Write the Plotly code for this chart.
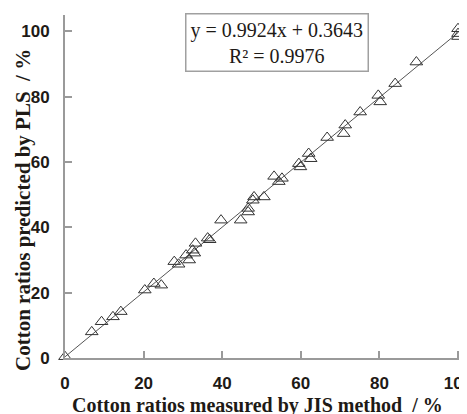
import plotly.graph_objects as go

# Measured (JIS) vs predicted (PLS) cotton ratios, %
measured = [0, 6.8, 9.3, 12.2, 14.2, 20.3, 22.6, 24.5, 27.8, 28.9, 30.8, 31.6, 32.5,
            33.2, 32.9, 36.3, 36.8, 39.7, 44.7, 46.6, 46.6, 47.8, 48.1, 50.6, 53.2,
            54.4, 55.2, 59.5, 59.9, 62.0, 62.5, 66.7, 70.9, 71.3, 75.1, 79.7, 80.2,
            84.0, 89.4, 100, 100, 100]
predicted = [0.4, 8.0, 11.1, 12.6, 14.2, 20.8, 22.8, 22.3, 29.5, 28.7, 31.5, 30.0, 33.0,
             35.1, 32.1, 36.7, 36.2, 42.2, 42.2, 44.7, 45.8, 48.3, 49.3, 49.3, 55.6,
             54.0, 55.0, 59.5, 58.5, 62.6, 61.0, 67.5, 68.7, 71.3, 75.3, 80.4, 78.4,
             84.0, 90.6, 100.8, 99.3, 98.4]

slope = 0.9924
intercept = 0.3643
r2 = 0.9976
fit_x = [0, 100]
fit_y = [slope * v + intercept for v in fit_x]

x_ticks = [0, 20, 40, 60, 80, 100]
y_ticks = [0, 20, 40, 60, 80, 100]

axis_col = "#9a9a9a"
txt_col = "#1e1a16"

# page has an 8px body margin; figure sized to fit the 467x414 window
W, H = 459, 406
L, R, T, B = 57, 7, 7, 56
PW, PH = W - L - R, H - T - B

fig = go.Figure()
fig.add_trace(go.Scatter(x=fit_x, y=fit_y, mode="lines",
                         line=dict(color="#555555", width=1), showlegend=False,
                         cliponaxis=False))
fig.add_trace(go.Scatter(x=measured, y=predicted, mode="markers",
                         marker=dict(symbol="triangle-up-open", size=11,
                                     color="#333333", line=dict(width=1)),
                         showlegend=False, cliponaxis=False))

fig.update_layout(
    width=W, height=H,
    margin=dict(l=L, r=R, t=T, b=B, autoexpand=False),
    paper_bgcolor="white", plot_bgcolor="white",
    xaxis=dict(range=[0, 100.5], tickvals=x_ticks, ticks="inside", ticklen=7,
               tickcolor=axis_col, tickwidth=2, showline=True, linecolor=axis_col,
               linewidth=2, showgrid=False, zeroline=False, automargin=False,
               ticklabeloverflow="allow",
               tickfont=dict(family="Liberation Sans", size=17, color=txt_col,
                             weight="bold"),
               ticklabelstandoff=9),
    yaxis=dict(range=[0, 105], tickvals=y_ticks, ticks="inside", ticklen=7,
               tickcolor=axis_col, tickwidth=2, showline=True, linecolor=axis_col,
               linewidth=2, showgrid=False, zeroline=False, automargin=False,
               ticklabeloverflow="allow",
               tickfont=dict(family="Liberation Sans", size=17, color=txt_col,
                             weight="bold"),
               ticklabelstandoff=10),
    annotations=[
        dict(text="y = 0.9924x + 0.3643<br>R² = 0.9976",
             xref="paper", yref="paper", x=(268.5 - L) / PW, y=1 - (34.5 - T) / PH,
             xanchor="center", yanchor="middle", showarrow=False,
             font=dict(family="Liberation Serif", size=20, color=txt_col),
             bordercolor="#a0a0a0", borderwidth=1.5, borderpad=4, bgcolor="white"),
        dict(text="<b>Cotton ratios measured by JIS method  / %</b>",
             xref="paper", yref="paper", x=(249 - L) / PW, y=-47 / PH,
             xanchor="center", yanchor="middle", showarrow=False,
             font=dict(family="Liberation Serif", size=20, color=txt_col)),
        dict(text="<b>Cotton ratios predicted by PLS  / %</b>",
             xref="paper", yref="paper", x=-42 / PW, y=1 - (202 - T) / PH,
             textangle=-90,
             xanchor="center", yanchor="middle", showarrow=False,
             font=dict(family="Liberation Serif", size=21, color=txt_col)),
    ],
)

fig.write_html("out.html")
